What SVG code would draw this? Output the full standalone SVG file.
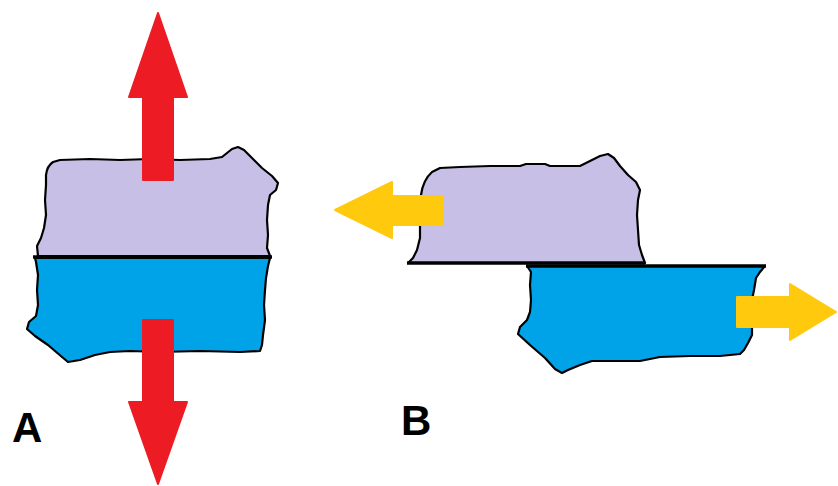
<svg xmlns="http://www.w3.org/2000/svg" width="838" height="486" viewBox="0 0 838 486">
  <style>
    .edge { stroke: #000; stroke-width: 2.2; stroke-linejoin: round; }
    .upper { fill: #C8BFE7; }
    .lower { fill: #00A2E8; }
    .seam { stroke: #000; stroke-width: 3.5; fill: none; }
    .red { fill: #ED1C24; stroke: #ED1C24; stroke-width: 2; stroke-linejoin: round; }
    .yellow { fill: #FFC90E; stroke: #FFC90E; stroke-width: 2; stroke-linejoin: round; }
    .label { font-family: "Liberation Sans", Arial, sans-serif; font-weight: bold; font-size: 42px; fill: #000; }
  </style>
  <rect width="838" height="486" fill="#fff"/>

  <!-- Case A: two blocks pulled apart -->
  <g id="blockA-upper">
    <path class="upper edge" d="M 38,256 L 37,246 L 41,238 L 44,228 L 46,215 L 45,200 L 46,185 L 46,175 Q 47,166 53,162 L 60,160 L 90,159 L 120,160 L 150,159 L 180,160 L 210,159 L 222,157 L 232,149 L 238,147 L 244,150 L 252,158 L 262,168 L 272,176 L 278,183 L 276,190 L 270,195 L 268,205 L 267,220 L 268,235 L 267,248 L 270,256 Z"/>
  </g>
  <g id="blockA-lower">
    <path class="lower edge" d="M 35,258 L 270,258 L 268,266 L 266,278 L 265,290 L 264,305 L 265,320 L 263,335 L 262,345 L 260,351 L 240,352 L 200,351 L 160,352 L 130,351 L 110,352 L 95,355 L 80,360 L 68,362 L 62,357 L 48,345 L 35,336 L 27,329 L 29,322 L 36,316 L 38,305 L 37,290 L 38,275 L 36,262 Z"/>
  </g>
  <path class="seam" d="M 33,257 L 272,257"/>

  <!-- Case B: two blocks sliding past each other -->
  <g id="blockB-upper">
    <path class="upper edge" d="M 408,263 L 413,258 L 417,250 L 420,238 L 420,225 L 421,210 L 421,195 Q 423,180 432,172 L 440,168 L 460,167 L 490,166 L 520,166 L 526,164 L 545,164 L 550,166 L 580,166 L 590,161 L 600,156 L 608,154 L 614,158 L 620,166 L 628,175 L 636,182 L 640,190 L 638,200 L 637,215 L 638,230 L 639,245 L 642,255 L 645,263 Z"/>
  </g>
  <g id="blockB-lower">
    <path class="lower edge" d="M 527,266 L 765,266 L 760,272 L 756,278 L 754,290 L 752,300 L 752,318 L 752,335 L 748,343 L 744,350 L 740,354 L 720,356 L 690,356 L 660,357 L 640,361 L 620,361 L 592,361 L 580,365 L 568,370 L 562,373 L 555,369 L 545,358 L 530,345 L 518,334 L 520,327 L 527,320 L 530,312 L 531,300 L 530,285 L 531,272 Z"/>
  </g>
  <path class="seam" d="M 407,263 L 645,263"/>
  <path class="seam" d="M 526,266 L 766,266"/>

  <!-- Force arrows -->
  <g id="connectors">
    <path class="red" d="M 158,13 L 187,97 L 173,97 L 173,180 L 143,180 L 143,97 L 129,97 Z"/>
    <path class="red" d="M 143,320 L 173,320 L 173,402 L 187,402 L 158,484 L 129,402 L 143,402 Z"/>
    <path class="yellow" d="M 335,210 L 392,182 L 392,196 L 443,196 L 443,225 L 392,225 L 392,238 Z"/>
    <path class="yellow" d="M 737,297 L 790,297 L 790,284 L 836,312 L 790,340 L 790,327 L 737,327 Z"/>
  </g>

  <text class="label" x="12" y="442">A</text>
  <text class="label" x="401" y="435">B</text>
</svg>
